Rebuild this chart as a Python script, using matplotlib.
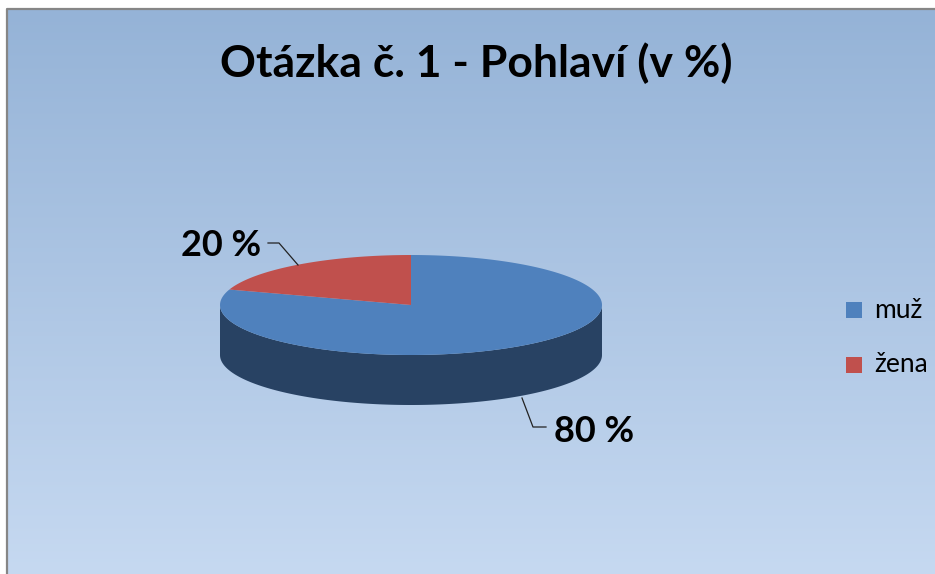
import numpy as np
from matplotlib import pyplot as plt
from matplotlib.patches import Polygon, Rectangle
from matplotlib.colors import LinearSegmentedColormap


# Data
title = 'Otázka č. 1 - Pohlaví (v %)'
labels = ['muž', 'žena']
values = [80, 20]
top_colors = ['#4F81BD', '#C0504D']
side_colors = ['#284263', '#7A2F2D']

# Layout (pixels, y downwards)
W, H = 935, 574
cx, cy = 411, 305      # centre of the top face
rx, ry = 191, 50       # ellipse radii
depth = 50             # height of the pie side
start = 90             # first slice starts at 12 o'clock, goes clockwise


def pt(t, dy=0):
  t = np.radians(t)
  return cx + rx * np.cos(t), cy - ry * np.sin(t) + dy


def arc(a0, a1, dy=0, n=200):
  ts = np.linspace(a0, a1, n)
  return [pt(t, dy) for t in ts]


fig = plt.figure(figsize=(W / 100, H / 100), dpi=100)
ax = fig.add_axes([0, 0, 1, 1])
ax.set_xlim(0, W)
ax.set_ylim(H, 0)
ax.axis('off')

# chart area with vertical gradient
grad = np.linspace(0, 1, 256).reshape(-1, 1)
cmap = LinearSegmentedColormap.from_list('bg', ['#95B3D7', '#C6D9F1'])
ax.imshow(grad, cmap=cmap, aspect='auto', extent=[7, W + 1, H + 1, 9], zorder=0)
ax.plot([7, 7, W + 1], [H + 1, 9, 9], color='#868686', lw=1.6, zorder=1)

# slice angle ranges
total = sum(values)
spans = []
a = start
for v in values:
  a1 = a - v / total * 360
  spans.append((a1, a))
  a = a1

# sides (only the front half, -180..0, is visible)
for (lo, hi), col in zip(spans, side_colors):
  for k in (-360, 0, 360):
    s0, s1 = max(lo + k, -180), min(hi + k, 0)
    if s0 < s1:
      poly = arc(s0, s1) + arc(s1, s0, dy=depth)
      ax.add_patch(Polygon(poly, closed=True, fc=col, ec='none', zorder=2))

# top faces
for (lo, hi), col in zip(spans, top_colors):
  poly = [(cx, cy)] + arc(lo, hi)
  ax.add_patch(Polygon(poly, closed=True, fc=col, ec='none', zorder=3))

# data labels with leader lines
font = ['Lato', 'DejaVu Sans']
ax.plot([268, 279, 298], [243, 243, 265], color='#222222', lw=0.9, zorder=4)
ax.text(221, 245, f'{values[1]} %', ha='center', va='center', fontsize=26,
        fontweight='bold', family=font, zorder=5)
ax.plot([522, 533, 546], [398, 427, 427], color='#222222', lw=0.9, zorder=4)
ax.text(594, 432, f'{values[0]} %', ha='center', va='center', fontsize=26,
        fontweight='bold', family=font, zorder=5)

# title
ax.text(476, 63, title, ha='center', va='center', fontsize=32, fontweight='bold',
        family=font, zorder=5)

# legend
for i, (lab, col) in enumerate(zip(labels, top_colors)):
  y = 310 + i * 55
  ax.add_patch(Rectangle((846, y - 8), 16, 16, fc=col, ec='none', zorder=5))
  ax.text(874, y, lab, ha='left', va='center', fontsize=19, family=font, zorder=5)

fig.savefig('out.png', dpi=100)
